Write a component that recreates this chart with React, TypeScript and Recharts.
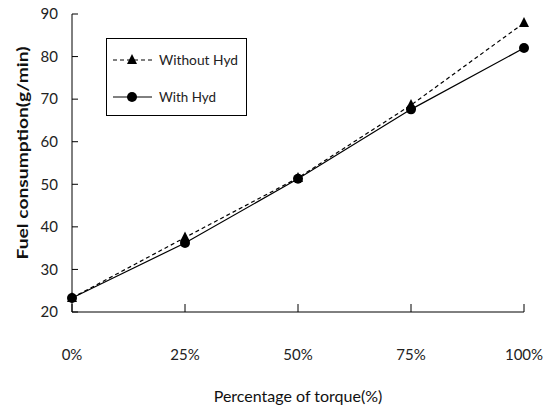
import React from 'react';
import { LineChart, Line, XAxis, YAxis, Legend } from 'recharts';

const categories = ['0%', '25%', '50%', '75%', '100%'];
const withoutHyd = [23.3, 37.5, 51.5, 68.6, 87.9];
const withHyd = [23.3, 36.2, 51.3, 67.6, 82.0];
const yTicks = [20, 30, 40, 50, 60, 70, 80, 90];
const seriesNames = ['Without Hyd', 'With Hyd'];

const data = categories.map((c, i) => ({ name: c, without: withoutHyd[i], withH: withHyd[i] }));

const FONT = 'Lato, "Open Sans", sans-serif';
const TEXT = '#222';

const TriangleDot = (props: any) => {
  const { cx, cy, index } = props;
  if (cx == null || cy == null) return null;
  return (
    <polygon
      key={`t-${index}`}
      points={`${cx},${cy - 6} ${cx - 5},${cy + 4} ${cx + 5},${cy + 4}`}
      fill="#000"
    />
  );
};

const CircleDot = (props: any) => {
  const { cx, cy, index } = props;
  if (cx == null || cy == null) return null;
  return <circle key={`c-${index}`} cx={cx} cy={cy} r={5} fill="#000" />;
};

const LegendBox = () => (
  <div
    style={{
      width: 141,
      height: 78,
      border: '1px solid #000',
      boxSizing: 'border-box',
      background: '#fff',
      fontFamily: FONT,
      fontSize: 14,
      color: TEXT,
      position: 'relative',
    }}
  >
    <svg width={141} height={78} style={{ position: 'absolute', left: -1, top: -1 }}>
      <line x1={7} y1={22} x2={46} y2={22} stroke="#000" strokeWidth={1} strokeDasharray="4 3" />
      <polygon points="26,16 21,26 31,26" fill="#000" />
      <text x={53} y={27} fontFamily={FONT} fontSize={14} fill={TEXT} textLength={79} lengthAdjust="spacingAndGlyphs">{seriesNames[0]}</text>
      <line x1={7} y1={59} x2={46} y2={59} stroke="#000" strokeWidth={1} />
      <circle cx={26} cy={59} r={5} fill="#000" />
      <text x={53} y={64} fontFamily={FONT} fontSize={14} fill={TEXT} textLength={57} lengthAdjust="spacingAndGlyphs">{seriesNames[1]}</text>
    </svg>
  </div>
);

const YTitle = () => (
  <text
    x={0}
    y={0}
    transform="translate(28,153) rotate(-90)"
    textAnchor="middle"
    fontFamily={FONT}
    fontWeight="bold"
    fontSize={16}
    fill="#111"
    textLength={213}
    lengthAdjust="spacingAndGlyphs"
  >
    Fuel consumption(g/min)
  </text>
);

export default function App() {
  return (
    <div style={{ position: 'absolute', left: 0, top: 0, background: '#fff' }}>
      <LineChart
        width={551}
        height={411}
        data={data}
        margin={{ top: 14, right: 27, left: 0, bottom: 0 }}
      >
        <XAxis
          dataKey="name"
          scale="point"
          padding={{ left: 0, right: 0 }}
          height={99}
          interval={0}
          tickSize={-8}
          tickMargin={45}
          axisLine={{ stroke: '#000' }}
          tickLine={{ stroke: '#000' }}
          tick={{ fill: TEXT, fontSize: 15, fontFamily: FONT }}
          label={{
            value: 'Percentage of torque(%)',
            position: 'insideBottom',
            offset: 9,
            fill: '#111',
            fontSize: 16,
            fontFamily: FONT,
          }}
        />
        <YAxis
          type="number"
          domain={[20, 90]}
          ticks={yTicks}
          interval={0}
          width={72}
          tickSize={-6}
          tickMargin={20}
          axisLine={{ stroke: '#000' }}
          tickLine={{ stroke: '#000' }}
          tick={{ fill: TEXT, fontSize: 15, fontFamily: FONT }}
          label={{ value: 'Fuel consumption(g/min)', content: () => <YTitle /> }}
        />
        <Legend
          layout="horizontal"
          verticalAlign="middle"
          align="center"
          content={() => <LegendBox />}
          wrapperStyle={{ left: 106, top: 38, width: 141, height: 78 }}
        />
        <Line
          type="linear"
          dataKey="without"
          name={seriesNames[0]}
          stroke="#000"
          strokeWidth={1.2}
          strokeDasharray="4 3"
          dot={<TriangleDot />}
          activeDot={false}
          isAnimationActive={false}
        />
        <Line
          type="linear"
          dataKey="withH"
          name={seriesNames[1]}
          stroke="#000"
          strokeWidth={1.2}
          dot={<CircleDot />}
          activeDot={false}
          isAnimationActive={false}
        />
      </LineChart>
    </div>
  );
}
